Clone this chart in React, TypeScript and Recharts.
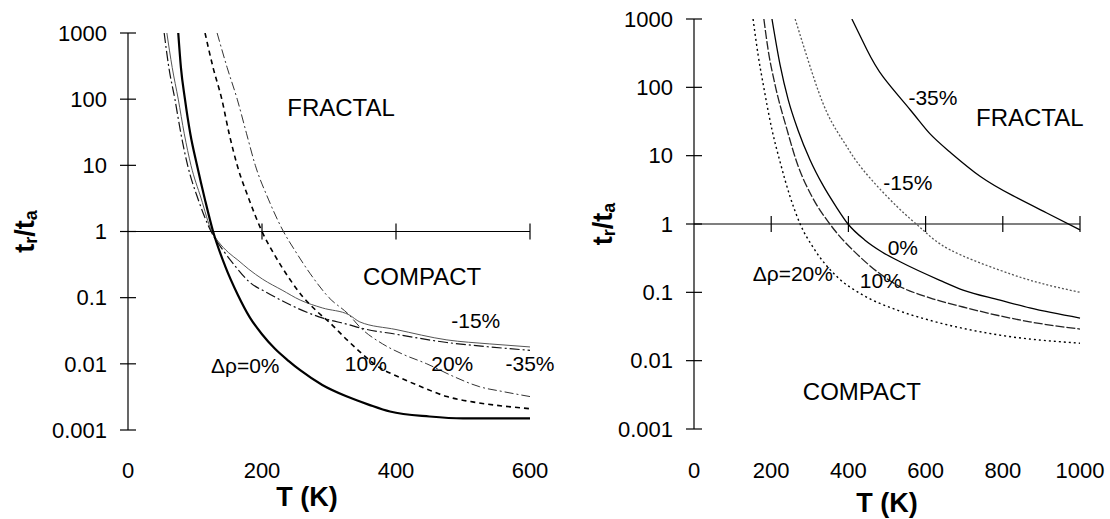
import { LineChart, Line, XAxis, YAxis, ReferenceLine, ReferenceDot } from "recharts";

// ---- left panel: t_r/t_a vs T, 0..600 K ----
const leftT0 = [75, 79, 85, 93, 103, 115, 127, 145, 164, 182, 200, 219, 240, 257, 290, 327, 360, 391, 450, 500, 550, 600];
const leftV0 = [1000, 300, 100, 30, 10, 3, 1, 0.3, 0.11, 0.05, 0.028, 0.017, 0.011, 0.008, 0.0048, 0.0032, 0.0024, 0.0019, 0.0016, 0.0015, 0.0015, 0.0015];
const leftT10 = [115, 127, 140, 151, 163, 181, 200, 220, 240, 262, 280, 301, 327, 350, 376, 400, 440, 476, 520, 560, 600];
const leftV10 = [1000, 300, 100, 30, 10, 3, 1, 0.42, 0.2, 0.1, 0.065, 0.042, 0.023, 0.014, 0.0087, 0.0066, 0.0044, 0.0032, 0.0026, 0.0023, 0.0021];
const leftT20 = [133, 148, 163, 177, 190, 210, 232, 250, 272, 300, 330, 346, 380, 410, 446, 485, 525, 560, 600];
const leftV20 = [1000, 300, 100, 30, 10, 3, 1, 0.5, 0.23, 0.1, 0.055, 0.036, 0.02, 0.014, 0.01, 0.0065, 0.0045, 0.0038, 0.0032];
const leftTm15 = [58, 66, 75, 84, 94, 109, 125, 135, 150, 164, 180, 201, 230, 257, 290, 330, 346, 400, 476, 540, 600];
const leftVm15 = [1000, 300, 100, 30, 10, 3.2, 1, 0.7, 0.48, 0.37, 0.27, 0.19, 0.13, 0.092, 0.07, 0.055, 0.043, 0.033, 0.023, 0.02, 0.018];
const leftTm35 = [54, 61, 70, 79, 89, 105, 124, 142, 160, 182, 207, 242, 291, 330, 346, 400, 476, 540, 600];
const leftVm35 = [1000, 300, 100, 30, 10, 3, 1, 0.52, 0.3, 0.17, 0.12, 0.078, 0.049, 0.039, 0.035, 0.028, 0.021, 0.018, 0.016];

// ---- right panel: 0..1000 K ----
const rightTm35 = [409, 448, 490, 560, 611, 663, 741, 826, 914, 1000];
const rightVm35 = [1000, 355, 142, 47, 21, 11.3, 5, 2.6, 1.45, 0.82];
const rightTm15 = [262, 301, 345, 391, 438, 526, 593, 663, 793, 896, 1000];
const rightVm15 = [1000, 200, 42, 15, 6.2, 1.8, 0.82, 0.42, 0.21, 0.137, 0.1];
const rightT0 = [202, 223, 244, 269, 301, 334, 368, 399, 443, 487, 534, 637, 697, 793, 870, 1000];
const rightV0 = [1000, 213, 66, 24, 8.6, 3.7, 1.8, 1, 0.58, 0.39, 0.28, 0.15, 0.108, 0.077, 0.059, 0.042];
const rightT10 = [181, 192, 210, 241, 267, 306, 352, 430, 526, 611, 697, 870, 1000];
const rightV10 = [1000, 355, 109, 24, 7.8, 2.5, 1, 0.33, 0.128, 0.083, 0.061, 0.037, 0.029];
const rightT20 = [153, 166, 181, 202, 223, 249, 275, 308, 370, 438, 526, 611, 785, 1000];
const rightV20 = [1000, 300, 98, 24, 8.1, 2.5, 1, 0.46, 0.17, 0.091, 0.055, 0.039, 0.024, 0.018];

const yTicks = [0.001, 0.01, 0.1, 1, 10, 100, 1000];
const leftXTicks = [0, 200, 400, 600];
const rightXTicks = [0, 200, 400, 600, 800, 1000];

const leftNotes = [
  { text: "FRACTAL", T: 318, v: 76, size: 24 },
  { text: "COMPACT", T: 439, v: 0.21, size: 24 },
  { text: "-15%", T: 519, v: 0.045, size: 21 },
  { text: "20%", T: 484, v: 0.01, size: 21 },
  { text: "-35%", T: 600, v: 0.01, size: 21 },
  { text: "10%", T: 355, v: 0.01, size: 21 },
  { text: "\u0394\u03c1=0%", T: 175, v: 0.0093, size: 21 },
];
const rightNotes = [
  { text: "-35%", T: 619, v: 72, size: 21 },
  { text: "FRACTAL", T: 870, v: 36, size: 24 },
  { text: "-15%", T: 554, v: 4, size: 21 },
  { text: "0%", T: 541, v: 0.45, size: 21 },
  { text: "10%", T: 484, v: 0.15, size: 21 },
  { text: "\u0394\u03c1=20%", T: 256, v: 0.19, size: 21 },
  { text: "COMPACT", T: 435, v: 0.0035, size: 24 },
];

const font = "Arial, 'Liberation Sans', sans-serif";
const zip = (t: number[], v: number[]) => t.map((T, i) => ({ T, v: v[i] }));

function YTitle({ viewBox, off }: any) {
  const cx = viewBox.x + off;
  const cy = viewBox.y + viewBox.height / 2;
  return (
    <text x={cx} y={cy} transform={`rotate(-90 ${cx} ${cy})`} textAnchor="middle" dominantBaseline="central"
      fontFamily={font} fontWeight="bold" fontSize={27} fill="#000">
      t<tspan dy={6} fontSize={18}>r</tspan><tspan dy={-6}>/t</tspan><tspan dy={6} fontSize={18}>a</tspan>
    </text>
  );
}

function XTitle({ viewBox, dx, dy }: any) {
  return (
    <text x={viewBox.x + viewBox.width / 2 + dx} y={viewBox.y + dy} textAnchor="middle" dominantBaseline="central"
      fontFamily={font} fontWeight="bold" fontSize={27} fill="#000">T (K)</text>
  );
}

const tickMark = (horiz: boolean) => (p: any) =>
  horiz
    ? <line x1={p.cx - 8} x2={p.cx + 8} y1={p.cy} y2={p.cy} stroke="#000" strokeWidth={1.2} />
    : <line x1={p.cx} x2={p.cx} y1={p.cy - 8} y2={p.cy + 8} stroke="#000" strokeWidth={1.2} />;

const noteShape = (text: string, size: number) => (p: any) =>
  <text x={p.cx} y={p.cy} textAnchor="middle" dominantBaseline="central" fontFamily={font} fontSize={size} fill="#000">{text}</text>;

type S = { data: { T: number; v: number }[]; stroke: string; w: number; dash?: string; curve?: "monotone" | "natural" };

function Panel({ series, notes, xMax, xTicks, width, left, top, bottom, yW, yOff, tDx, tDy, tickGap }: any) {
  return (
    <div style={{ position: "absolute", left, top: 0 }}>
      <LineChart width={width} height={519} margin={{ top, right: 30, bottom: 0, left: 0 }}>
        <XAxis type="number" dataKey="T" domain={[0, xMax]} ticks={xTicks} axisLine={false} tickLine={false}
          tickSize={0} tickMargin={tickGap} height={bottom} interval={0}
          tick={{ fontSize: 22, fill: "#000", fontFamily: font }}
          label={{ content: (p: any) => <XTitle {...p} dx={tDx} dy={tDy} /> }} />
        <YAxis type="number" scale="log" domain={[0.001, 1000]} ticks={yTicks} allowDataOverflow width={yW}
          axisLine={{ stroke: "#000", strokeWidth: 1.2 }} tickLine={false} tickSize={0} tickMargin={21} interval={0}
          tick={{ fontSize: 22, fill: "#000", fontFamily: font }}
          label={{ content: (p: any) => <YTitle {...p} off={yOff} /> }} />
        <ReferenceLine y={1} stroke="#000" strokeWidth={1.2} />
        {yTicks.map((t) => (
          <ReferenceDot key={"y" + t} x={0} y={t} r={0} ifOverflow="visible" shape={tickMark(true)} />
        ))}
        {xTicks.filter((t: number) => t > 0).map((t: number) => (
          <ReferenceDot key={"x" + t} x={t} y={1} r={0} ifOverflow="visible" shape={tickMark(false)} />
        ))}
        {series.map((s: S, i: number) => (
          <Line key={i} data={s.data} dataKey="v" type={s.curve ?? "monotone"} dot={false} stroke={s.stroke}
            strokeWidth={s.w} strokeDasharray={s.dash} isAnimationActive={false} />
        ))}
        {notes.map((n: any) => (
          <ReferenceDot key={n.text} x={n.T} y={n.v} r={0} ifOverflow="visible" shape={noteShape(n.text, n.size)} />
        ))}
      </LineChart>
    </div>
  );
}

export default function App() {
  const leftSeries: S[] = [
    { data: zip(leftTm15, leftVm15), stroke: "#555", w: 1 },
    { data: zip(leftTm35, leftVm35), stroke: "#111", w: 1.2, dash: "10 3 2 3" },
    { data: zip(leftT20, leftV20), stroke: "#333", w: 1, dash: "9 3 2 3" },
    { data: zip(leftT10, leftV10), stroke: "#000", w: 1.6, dash: "5 4" },
    { data: zip(leftT0, leftV0), stroke: "#000", w: 2.2 },
  ];
  const rightSeries: S[] = [
    { data: zip(rightTm35, rightVm35), stroke: "#000", w: 1.3, curve: "natural" },
    { data: zip(rightTm15, rightVm15), stroke: "#555", w: 1.3, dash: "2 2", curve: "natural" },
    { data: zip(rightT0, rightV0), stroke: "#000", w: 1.3 },
    { data: zip(rightT10, rightV10), stroke: "#222", w: 1.3, dash: "9 2" },
    { data: zip(rightT20, rightV20), stroke: "#000", w: 1.4, dash: "2 3" },
  ];
  return (
    <div style={{ position: "absolute", left: 0, top: 0, width: 1110, height: 519, background: "#fff", overflow: "hidden" }}>
      <Panel series={leftSeries} notes={leftNotes} xMax={600} xTicks={leftXTicks} width={560} left={0}
        top={33} bottom={89} yW={128} yOff={25} tDx={-22} tDy={67} tickGap={32} />
      <Panel series={rightSeries} notes={rightNotes} xMax={1000} xTicks={rightXTicks} width={550} left={560}
        top={19} bottom={90} yW={134} yOff={43} tDx={0} tDy={74} tickGap={33} />
    </div>
  );
}
